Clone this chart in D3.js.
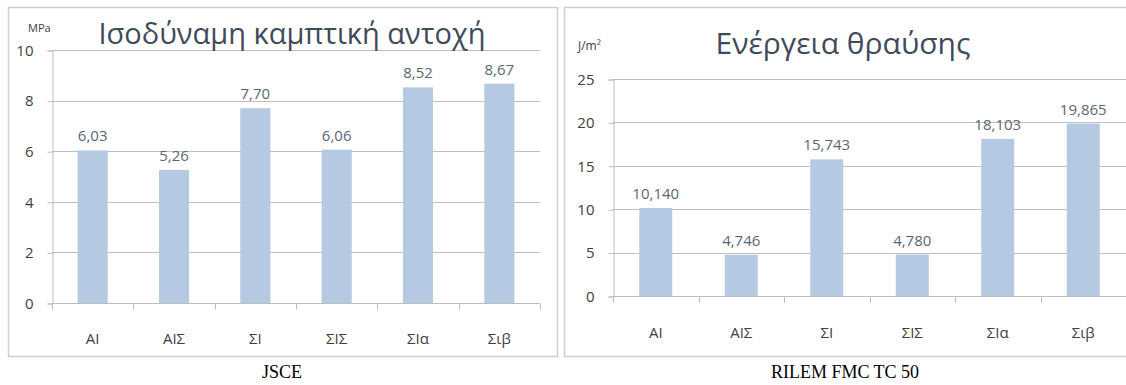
<!DOCTYPE html>
<html>
<head>
<meta charset="utf-8">
<script src="https://cdn.jsdelivr.net/npm/d3@7"></script>
<style>
  html, body { margin: 0; padding: 0; background: #fff; }
  svg { display: block; }
</style>
</head>
<body>
<svg id="chart" width="1126" height="385"></svg>
<script>
// Specimen groups shared by both charts
const categories = ["ΑΙ", "ΑΙΣ", "ΣΙ", "ΣΙΣ", "ΣΙα", "Σιβ"];

// Equivalent flexural strength (MPa), JSCE method
const strengthValues = [6.03, 5.26, 7.70, 6.06, 8.52, 8.67];
const strengthTicks = [0, 2, 4, 6, 8, 10];

// Fracture energy (J/m²), RILEM FMC TC 50 method
const energyValues = [10.140, 4.746, 15.743, 4.780, 18.103, 19.865];
const energyTicks = [0, 5, 10, 15, 20, 25];

const locale = d3.formatLocale({ decimal: ",", thousands: ".", grouping: [3], currency: ["", "€"] });

const svg = d3.select("#chart");
const uiFont = "'Open Sans', 'Noto Sans', sans-serif";

function drawChart(cfg) {
  const g = svg.append("g");

  // chart frame
  g.append("rect")
    .attr("x", cfg.frame[0] + 0.5).attr("y", cfg.frame[1] + 0.5)
    .attr("width", cfg.frame[2]).attr("height", cfg.frame[3])
    .attr("fill", "#fff").attr("stroke", "#cfcfcf").attr("stroke-width", 1.5);

  const x = d3.scaleBand().domain(categories).range([cfg.left, cfg.right]).paddingInner(0).paddingOuter(0);
  const y = d3.scaleLinear().domain([0, cfg.ticks[cfg.ticks.length - 1]]).range([cfg.bottom, cfg.top]);

  // horizontal gridlines
  g.append("g").selectAll("line").data(cfg.ticks.slice(1)).join("line")
    .attr("x1", cfg.left).attr("x2", cfg.right)
    .attr("y1", d => Math.round(y(d)) + 0.5).attr("y2", d => Math.round(y(d)) + 0.5)
    .attr("stroke", "#bfbfbf").attr("stroke-width", 1);

  // y axis
  const yAxis = g.append("g")
    .attr("transform", `translate(${cfg.left + 0.5},0.5)`)
    .call(d3.axisLeft(y).tickValues(cfg.ticks).tickSize(5).tickPadding(14).tickFormat(d3.format("d")));
  yAxis.select(".domain").attr("stroke", "#bdbdbd");
  yAxis.selectAll(".tick line").attr("stroke", "#bdbdbd");
  yAxis.selectAll(".tick text")
    .attr("fill", "#404040").style("font-family", uiFont).style("font-size", "15px");

  // bars
  g.append("g").selectAll("rect").data(cfg.values).join("rect")
    .attr("x", (d, i) => x(categories[i]) + (x.bandwidth() - x.bandwidth() * cfg.barRatio) / 2)
    .attr("width", x.bandwidth() * cfg.barRatio)
    .attr("y", d => y(d))
    .attr("height", d => y(0) - y(d))
    .attr("fill", "#b6c9e2");

  // x axis with ticks between categories
  const xAxis = g.append("g").attr("transform", `translate(0,${cfg.bottom + 0.5})`);
  xAxis.append("line").attr("x1", cfg.left).attr("x2", cfg.right).attr("stroke", "#bdbdbd");
  xAxis.selectAll("line.sep").data(d3.range(categories.length + 1)).join("line")
    .attr("class", "sep")
    .attr("x1", i => Math.round(cfg.left + i * x.step()) + 0.5)
    .attr("x2", i => Math.round(cfg.left + i * x.step()) + 0.5)
    .attr("y1", 0).attr("y2", 6).attr("stroke", "#bdbdbd");
  xAxis.selectAll("text").data(categories).join("text")
    .attr("x", d => x(d) + x.bandwidth() / 2)
    .attr("y", cfg.catY - cfg.bottom)
    .attr("text-anchor", "middle")
    .attr("fill", "#404040").style("font-family", uiFont).style("font-size", "15px")
    .text(d => d);

  // value labels
  g.append("g").selectAll("text").data(cfg.values).join("text")
    .attr("x", (d, i) => x(categories[i]) + x.bandwidth() / 2)
    .attr("y", d => y(d) - 9)
    .attr("text-anchor", "middle")
    .attr("fill", "#5b6675").style("font-family", uiFont).style("font-size", "15px")
    .text(d => locale.format(cfg.valueFmt)(d));

  // unit label
  g.append("text")
    .attr("x", cfg.unitPos[0]).attr("y", cfg.unitPos[1])
    .attr("fill", "#404040").style("font-family", uiFont).style("font-size", cfg.unitSize + "px")
    .text(cfg.unit);

  // chart title
  g.append("text")
    .attr("x", cfg.titlePos[0]).attr("y", cfg.titlePos[1])
    .attr("text-anchor", "middle")
    .attr("fill", "#3f4b5b").style("font-family", uiFont).style("font-size", cfg.titleSize + "px")
    .text(cfg.title);

  // caption beneath the frame
  svg.append("text")
    .attr("x", cfg.captionX).attr("y", 378)
    .attr("text-anchor", "middle")
    .attr("fill", "#000").style("font-family", "'Liberation Serif', 'Times New Roman', serif").style("font-size", "18px")
    .text(cfg.caption);
}

drawChart({
  frame: [8, 7, 549, 349],
  left: 52, right: 540, top: 50, bottom: 303,
  ticks: strengthTicks, values: strengthValues, valueFmt: ".2f",
  barRatio: 0.37, catY: 343,
  unit: "MPa", unitPos: [28, 32], unitSize: 11,
  title: "Ισοδύναμη καμπτική αντοχή", titlePos: [292, 44], titleSize: 29,
  caption: "JSCE", captionX: 282
});

drawChart({
  frame: [564, 7, 600, 349],
  left: 613, right: 1126, top: 79, bottom: 296,
  ticks: energyTicks, values: energyValues, valueFmt: ".3f",
  barRatio: 0.386, catY: 337,
  unit: "J/m²", unitPos: [578, 50], unitSize: 12,
  title: "Ενέργεια θραύσης", titlePos: [843, 54], titleSize: 30,
  caption: "RILEM FMC TC 50", captionX: 845
});
</script>
</body>
</html>
